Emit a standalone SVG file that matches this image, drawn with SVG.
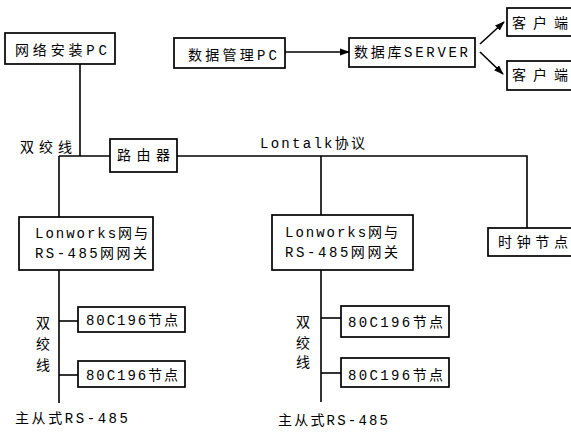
<svg xmlns="http://www.w3.org/2000/svg" width="571" height="436" viewBox="0 0 571 436">
<defs>
<marker id="ah" markerWidth="10" markerHeight="8" refX="9" refY="4" orient="auto" markerUnits="userSpaceOnUse">
<path d="M0,0.5 L10,4 L0,7.5 Z" fill="#000"/>
</marker>
<style>
.box{fill:#fff;stroke:#000;stroke-width:1.7}
.ln{fill:none;stroke:#000;stroke-width:1.6}
text{font-family:"Liberation Mono","Noto Sans CJK SC",monospace;font-size:14px;fill:#000}
</style>
</defs>
<rect width="571" height="436" fill="#fff"/>
<g id="connectors">
<path class="ln" d="M80,64 V156"/>
<path class="ln" d="M59,156 H110"/>
<path class="ln" d="M177,156 H527 V228"/>
<path class="ln" d="M321,156 V215"/>
<path class="ln" d="M59,156 V217"/>
<path class="ln" d="M59,270 V403"/>
<path class="ln" d="M59,321 H78"/>
<path class="ln" d="M59,375 H78"/>
<path class="ln" d="M321,270 V402"/>
<path class="ln" d="M321,318 H341"/>
<path class="ln" d="M321,373 H341"/>
<path class="ln" d="M285,52 H349" marker-end="url(#ah)"/>
<path class="ln" d="M480,44 L504,22" marker-end="url(#ah)"/>
<path class="ln" d="M480,52 L503,74" marker-end="url(#ah)"/>
</g>
<g id="n_install"><rect class="box" x="5" y="33" width="110" height="31"/><text x="15" y="55" textLength="92" lengthAdjust="spacing">网络安装PC</text></g>
<g id="n_dbpc"><rect class="box" x="174" y="38" width="111" height="30"/><text x="188" y="60" textLength="89" lengthAdjust="spacing">数据管理PC</text></g>
<g id="n_server"><rect class="box" x="349" y="38" width="126" height="29"/><text x="354" y="57" textLength="114" lengthAdjust="spacing">数据库SERVER</text></g>
<g id="n_client1"><rect class="box" x="507" y="8" width="70" height="28"/><text x="512" y="28" textLength="56" lengthAdjust="spacing">客户端</text></g>
<g id="n_client2"><rect class="box" x="507" y="61" width="70" height="29"/><text x="512" y="80" textLength="56" lengthAdjust="spacing">客户端</text></g>
<g id="n_router"><rect class="box" x="110" y="139" width="67" height="33"/><text x="117" y="160" textLength="53" lengthAdjust="spacing">路由器</text></g>
<g id="n_gw1"><rect class="box" x="19" y="217" width="134" height="53"/><text x="35" y="238" textLength="113" lengthAdjust="spacing">Lonworks网与</text><text x="35" y="258" textLength="112" lengthAdjust="spacing">RS-485网网关</text></g>
<g id="n_gw2"><rect class="box" x="272" y="215" width="141" height="55"/><text x="285" y="237" textLength="113" lengthAdjust="spacing">Lonworks网与</text><text x="285" y="257" textLength="113" lengthAdjust="spacing">RS-485网网关</text></g>
<g id="n_clock"><rect class="box" x="488" y="228" width="90" height="28"/><text x="498" y="247" textLength="70" lengthAdjust="spacing">时钟节点</text></g>
<g id="n_l1"><rect class="box" x="78" y="307" width="107" height="25"/><text x="86" y="325" textLength="92" lengthAdjust="spacing">80C196节点</text></g>
<g id="n_l2"><rect class="box" x="78" y="361" width="107" height="26"/><text x="86" y="380" textLength="92" lengthAdjust="spacing">80C196节点</text></g>
<g id="n_r1"><rect class="box" x="341" y="306" width="108" height="31"/><text x="348" y="327" textLength="95" lengthAdjust="spacing">80C196节点</text></g>
<g id="n_r2"><rect class="box" x="341" y="358" width="108" height="29"/><text x="348" y="380" textLength="95" lengthAdjust="spacing">80C196节点</text></g>
<g id="labels">
<text x="20" y="152" textLength="52" lengthAdjust="spacing">双绞线</text>
<text x="260" y="148" textLength="105" lengthAdjust="spacing">Lontalk协议</text>
<text x="36" y="328">双</text><text x="36" y="349">绞</text><text x="36" y="370">线</text>
<text x="296" y="327">双</text><text x="296" y="348">绞</text><text x="296" y="367">线</text>
<text x="15" y="423" textLength="113" lengthAdjust="spacing">主从式RS-485</text>
<text x="278" y="425" textLength="110" lengthAdjust="spacing">主从式RS-485</text>
</g>
</svg>
